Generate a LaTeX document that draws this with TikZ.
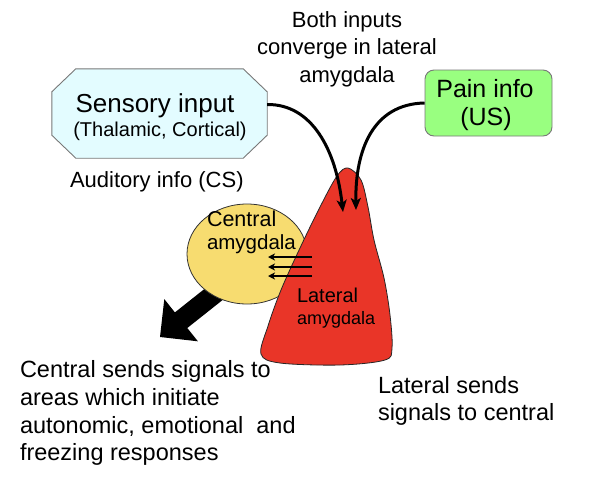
\documentclass[tikz,border=0pt]{standalone}
\usepackage{fontspec}
\setmainfont{Liberation Sans}
\usetikzlibrary{shapes.geometric,arrows.meta,calc}
\definecolor{cyanfill}{RGB}{227,252,255}
\definecolor{greenfill}{RGB}{153,255,128}
\definecolor{redfill}{RGB}{233,53,40}
\definecolor{yellowfill}{RGB}{247,220,112}
\definecolor{edgegray}{RGB}{120,120,120}
\newcommand{\fs}[1]{\fontsize{#1}{#1}\selectfont}
\tikzset{
  txt/.style={inner sep=0pt, outer sep=0pt, anchor=base},
  txtw/.style={inner sep=0pt, outer sep=0pt, anchor=base west},
  curvearr/.style={line width=3pt, -{Stealth[length=12pt,width=10pt,inset=3pt]}},
  smallarr/.style={line width=2.4pt, -{Stealth[length=7pt,width=7pt,inset=2pt]}},
}
\begin{document}
\begin{tikzpicture}[x=1pt,y=-1pt]
\useasboundingbox (0,0) rectangle (592,480);
% big black arrow (under the ellipse)
\fill[black] (221.8,275.2) -- (174.9,312.4) -- (164.3,299.1) -- (160,337) -- (197.9,341.3) -- (187.3,328.0) -- (234.2,290.8) -- cycle;
% central amygdala
\node (cen) [ellipse, draw=black!80, line width=0.8pt, fill=yellowfill, minimum width=120, minimum height=100, inner sep=0pt] at (247,254) {};
% lateral amygdala shape
\draw[fill=redfill, draw=black!85, line width=0.8pt] plot[smooth cycle, tension=0.55] coordinates {(261,354) (268,326) (281,290) (300,248) (320,207) (337,176) (348,168) (361,180) (368,207) (374,240) (384,278) (390,315) (392,348) (385,360) (340,365) (280,363)};
% sensory input octagon
\node (sens) [minimum width=215, minimum height=89, inner sep=0pt] at (159.5,113.5) {};
\draw[fill=cyanfill, draw=edgegray, line width=0.9pt]
  ($(sens.north west)+(24,0)$) -- ($(sens.north east)+(-24,0)$) -- ($(sens.north east)+(0,23)$)
  -- ($(sens.south east)+(0,-23)$) -- ($(sens.south east)+(-24,0)$) -- ($(sens.south west)+(24,0)$)
  -- ($(sens.south west)+(0,-23)$) -- ($(sens.north west)+(0,23)$) -- cycle;
% pain info box
\node (pain) [draw=edgegray, line width=0.9pt, fill=greenfill, rounded corners=9pt, minimum width=127, minimum height=66, inner sep=0pt] at (488.5,103) {};
% texts
\node (t1) [txt, font=\fs{22}] at (347,27) {Both inputs};
\node (t2) [txt, font=\fs{22}] at (347,54) {converge in lateral};
\node (t3) [txt, font=\fs{22}] at (347,82) {amygdala};
\node (s1) [txt, font=\fs{26}] at (155,112) {Sensory input};
\node (s2) [txt, font=\fs{20}] at (160,136) {(Thalamic, Cortical)};
\node (aud) [txtw, font=\fs{22}] at (70,187) {Auditory info (CS)};
\node (p1) [txt, font=\fs{25}] at (485,97) {Pain info};
\node (p2) [txt, font=\fs{25}] at (486,125) {(US)};
\node (c1) [txtw, font=\fs{21.5}] at (207,226) {Central};
\node (c2) [txtw, font=\fs{20.5}] at (207,249) {amygdala};
\node (l1) [txtw, font=\fs{20}] at (297,302) {Lateral};
\node (l2) [txtw, font=\fs{18}] at (297,324) {amygdala};
\node (b1) [txtw, font=\fs{23.5}] at (20,377) {Central sends signals to};
\node (b2) [txtw, font=\fs{23.5}] at (20,405) {areas which initiate};
\node (b3) [txtw, font=\fs{23.5}] at (20,433) {autonomic, emotional\ \ and};
\node (b4) [txtw, font=\fs{23.5}] at (20,460) {freezing responses};
\node (r1) [txtw, font=\fs{23.5}] at (378,393) {Lateral sends};
\node (r2) [txtw, font=\fs{23.5}] at (378,420) {signals to central};
% small arrows lateral -> central
\coordinate (la1) at (312,257); \coordinate (ca1) at (268,257);
\coordinate (la2) at (312,267); \coordinate (ca2) at (268,267);
\coordinate (la3) at (312,276); \coordinate (ca3) at (268,276);
\draw[smallarr] (la1) -- (ca1);
\draw[smallarr] (la2) -- (ca2);
\draw[smallarr] (la3) -- (ca3);
% converging input arrows
\coordinate (tipA) at (343,212);
\coordinate (tipB) at (356,210);
\draw[curvearr] ($(sens.east)+(0,-9)$) .. controls (312,104) and (336,150) .. (tipA);
\draw[curvearr] (pain.west) .. controls (373,104) and (355,150) .. (tipB);
\end{tikzpicture}
\end{document}
